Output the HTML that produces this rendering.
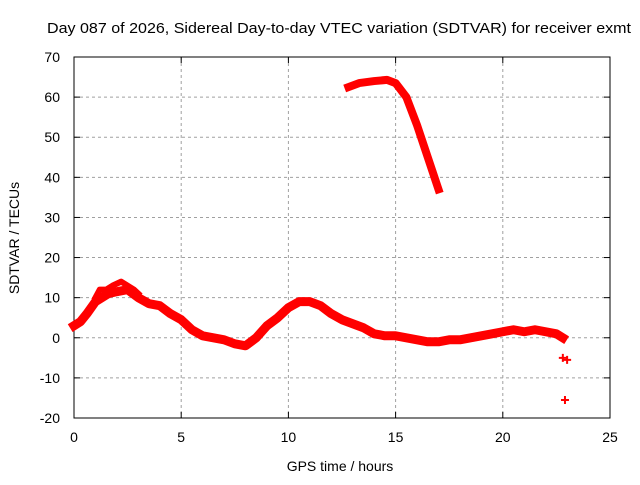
<!DOCTYPE html>
<html><head><meta charset="utf-8"><style>
body{margin:0;background:#fff;}
svg text{font-family:"Liberation Sans",sans-serif;font-size:14px;fill:#000;}
</style></head><body>
<svg id="chart" width="640" height="480">
<text x="339" y="33" text-anchor="middle" textLength="584" lengthAdjust="spacingAndGlyphs" style="font-size:15px">Day 087 of 2026, Sidereal Day-to-day VTEC variation (SDTVAR) for receiver exmt</text>
<g id="grid"></g><g id="axes"></g><g id="marks"></g>
<text x="340" y="471" text-anchor="middle">GPS time / hours</text>
<text transform="translate(19,238) rotate(-90)" text-anchor="middle">SDTVAR / TECUs</text>
</svg>
<script>
const xTicks=[0,5,10,15,20,25];
const yTicks=[-20,-10,0,10,20,30,40,50,60,70];
const mainT=[0,0.3,0.6,1.0,1.3,1.6,2.0,2.5,3.0,3.5,4.0,4.5,5.0,5.5,6.0,6.5,7.0,7.5,8.0,8.5,9.0,9.5,10.0,10.5,11.0,11.5,12.0,12.5,13.0,13.5,14.0,14.5,15.0,15.5,16,16.5,17,17.5,18,18.5,19,19.5,20,20.5,21,21.5,22,22.5,22.8];
const mainV=[3,4,6,9,10,11,11.5,12,10,8.5,8,6,4.5,2,0.5,0,-0.5,-1.5,-2,0,3,5,7.5,9,9,8,6,4.5,3.5,2.5,1,0.5,0.5,0,-0.5,-1,-1,-0.5,-0.5,0,0.5,1,1.5,2,1.5,2,1.5,1,0];
const upperT=[1.0,1.2,1.5,1.8,2.2,2.5,2.8,3.0];
const upperV=[10,12,12,13,14,13,12,11];
const secondT=[12.8,13.3,14,14.6,15,15.5,16,16.5,17];
const secondV=[62.5,63.5,64,64.3,63.5,60,53,45,37];
const isoT=[22.8,23,22.9];
const isoV=[-5,-5.5,-15.5];
const X0=74,X1=610,Y0=57,Y1=418;
const xs=v=>X0+(v-0)/25*(X1-X0);
const ys=v=>Y1-(v+20)/90*(Y1-Y0);
const NS="http://www.w3.org/2000/svg";
function mk(tag,attrs,parent){const e=document.createElementNS(NS,tag);for(const k in attrs)e.setAttribute(k,attrs[k]);document.getElementById(parent).appendChild(e);return e;}
xTicks.forEach(t=>{
 if(t>0&&t<25){const g=mk('line',{x1:xs(t),x2:xs(t),y1:Y0,y2:Y1,stroke:'#a0a0a0','stroke-dasharray':'3,3'},'grid');
 
 }
 const tl=mk('text',{x:xs(t),y:Y1+24,'text-anchor':'middle'},'axes');tl.textContent=t;
 
 
 mk('line',{x1:xs(t),x2:xs(t),y1:Y1,y2:Y1-6,stroke:'#000'},'axes');
 mk('line',{x1:xs(t),x2:xs(t),y1:Y0,y2:Y0+6,stroke:'#000'},'axes');
});
yTicks.forEach(t=>{
 if(t>-20&&t<70){const g=mk('line',{x1:X0,x2:X1,y1:ys(t),y2:ys(t),stroke:'#a0a0a0','stroke-dasharray':'3,3'},'grid');
 
 }
 const tl=mk('text',{x:X0-14,y:ys(t)+5,'text-anchor':'end'},'axes');tl.textContent=t;
 
 
 mk('line',{x1:X0,x2:X0+6,y1:ys(t),y2:ys(t),stroke:'#000'},'axes');
 mk('line',{x1:X1,x2:X1-6,y1:ys(t),y2:ys(t),stroke:'#000'},'axes');
});
const fr=mk('rect',{x:X0,y:Y0,width:X1-X0,height:Y1-Y0,fill:'none',stroke:'#000'},'axes');


function series(T,V,name,w){
 const pl=mk('polyline',{points:T.map((t,i)=>xs(t)+','+ys(V[i])).join(' '),fill:'none',stroke:'#f00','stroke-width':w,'stroke-linejoin':'round','stroke-linecap':'square'},'marks');
 
 
}
series(mainT,mainV,'sdtvar-main-trace',9);
series(upperT,upperV,'sdtvar-upper-branch',6);
series(secondT,secondV,'sdtvar-second-trace',8);
isoT.forEach((t,i)=>{
 const p=mk('path',{d:`M${xs(t)-4},${ys(isoV[i])}h8M${xs(t)},${ys(isoV[i])-4}v8`,stroke:'#f00','stroke-width':2},'marks');
 
 
});
</script>
</body></html>
